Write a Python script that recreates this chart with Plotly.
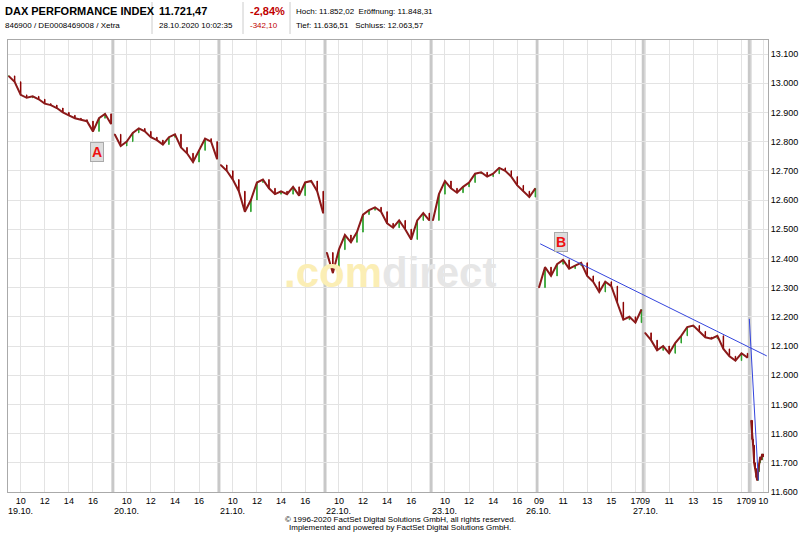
import plotly.graph_objects as go

# half-hourly closes 09:00 .. 17:30 per trading day
days = ["19.10.", "20.10.", "21.10.", "22.10.", "23.10.", "26.10.", "27.10."]
closes = [
    [13025, 13005, 12960, 12950, 12955, 12945, 12930, 12925, 12915, 12900, 12890, 12880, 12875, 12870, 12835, 12880, 12895, 12860],
    [12825, 12785, 12800, 12830, 12845, 12835, 12815, 12805, 12790, 12815, 12825, 12780, 12760, 12730, 12770, 12810, 12800, 12740],
    [12720, 12700, 12670, 12630, 12560, 12600, 12660, 12670, 12640, 12620, 12630, 12620, 12645, 12615, 12660, 12665, 12630, 12555],
    [12420, 12350, 12430, 12480, 12455, 12490, 12550, 12565, 12575, 12560, 12520, 12505, 12530, 12500, 12465, 12530, 12555, 12530],
    [12530, 12620, 12665, 12640, 12625, 12645, 12660, 12690, 12695, 12680, 12690, 12710, 12700, 12680, 12650, 12630, 12610, 12640],
    [12300, 12370, 12340, 12380, 12395, 12365, 12375, 12385, 12340, 12320, 12285, 12320, 12305, 12250, 12190, 12200, 12180, 12225],
    [12145, 12120, 12085, 12100, 12075, 12110, 12135, 12165, 12170, 12150, 12130, 12125, 12135, 12090, 12065, 12050, 12075, 12060],
]
# 28.10. in 5-minute steps from 09:00
last_day = [11845, 11780, 11760, 11700, 11680, 11650, 11640, 11670, 11700, 11720, 11710, 11730, 11721]

day_len = 8.8
ticks_a = [10, 12, 14, 16]
ticks_b = [9, 11, 13, 15, 17]

y_ticks = [11600, 11700, 11800, 11900, 12000, 12100, 12200, 12300, 12400, 12500,
           12600, 12700, 12800, 12900, 13000, 13100]

trend_b_x = [44.1, 62.9]
trend_b_y = [12450, 12066]
trend_c_x = [61.45, 62.2]
trend_c_y = [12193, 11640]

marks = [("A", 7.35, 12764), ("B", 45.8, 12456)]

W, H = 800, 533
L, R, T, B = 8, 32, 40, 41
PW, PH = W - L - R, H - T - B

fig = go.Figure()

xs, o, c = [], [], []
prev = None
for i, day in enumerate(closes):
    for j, v in enumerate(day):
        xs.append(i * day_len + j * 0.5)
        o.append(prev if (prev is not None and j > 0) else v)
        c.append(v)
        prev = v
for j, v in enumerate(last_day):
    xs.append(7 * day_len + j * 5 / 60)
    o.append(prev if j > 0 else v)
    c.append(v)
    prev = v
hi = [max(a, b) for a, b in zip(o, c)]
lo = [min(a, b) for a, b in zip(o, c)]

# connecting line per day
for i, day in enumerate(closes + [last_day]):
    step = 0.5 if i < 7 else 5 / 60
    fig.add_trace(go.Scatter(x=[i * day_len + j * step for j in range(len(day))], y=day,
                             mode="lines", line=dict(color="#8b1a1a", width=2),
                             hoverinfo="skip", showlegend=False))

fig.add_trace(go.Candlestick(x=xs, open=o, high=hi, low=lo, close=c,
                             increasing=dict(line=dict(color="#2ca02c", width=1), fillcolor="#3cb043"),
                             decreasing=dict(line=dict(color="#8b0000", width=1), fillcolor="#a00000"),
                             whiskerwidth=0, showlegend=False))

fig.add_trace(go.Scatter(x=trend_b_x, y=trend_b_y, mode="lines",
                         line=dict(color="#3344dd", width=1), showlegend=False))
fig.add_trace(go.Scatter(x=trend_c_x, y=trend_c_y, mode="lines",
                         line=dict(color="#3344dd", width=1), showlegend=False))

def px_x(px):
    return (px - L) / PW

def px_y(py):
    return (H - B - py) / PH

ann = []
tickvals, ticktext = [], []
for i, d in enumerate(days):
    hours = ticks_a if i < 5 else ticks_b
    for k, h in enumerate(hours):
        tickvals.append(i * day_len + h - 9)
        ticktext.append(f"{h:02d}")
    ann.append(dict(x=i * day_len + hours[0] - 9, xref="x", yref="paper", y=px_y(511), yanchor="middle",
                    text=d, showarrow=False, font=dict(size=9, family="Arial")))
tickvals += [7 * day_len, 7 * day_len + 1]
ticktext += ["09", "10"]

shapes = []
for i in range(1, 8):
    shapes.append(dict(type="line", xref="x", yref="paper", x0=i * day_len - 0.15, x1=i * day_len - 0.15,
                       y0=0, y1=1, line=dict(color="#c8c8c8", width=3), layer="below"))
for px in [152, 243, 290]:
    shapes.append(dict(type="line", xref="paper", yref="paper", x0=px_x(px), x1=px_x(px),
                       y0=px_y(34), y1=px_y(2), line=dict(color="#cccccc", width=1)))

for t, x, y in marks:
    ann.append(dict(x=x, y=y, text=f"<b>{t}</b>", showarrow=False, font=dict(color="#ee1111", size=14, family="Arial"),
                    bgcolor="#dddddd", bordercolor="#aaaaaa", borderwidth=1, borderpad=1))

def hdr(px, py, text, size=11, color="#000000", bold=False):
    ann.append(dict(xref="paper", yref="paper", x=px_x(px), y=px_y(py),
                    xanchor="left", yanchor="middle", showarrow=False,
                    text=f"<b>{text}</b>" if bold else text,
                    font=dict(size=size, color=color, family="Arial")))

hdr(3, 11, "DAX PERFORMANCE INDEX", 11, bold=True)
hdr(3, 25, "846900 / DE0008469008 / Xetra", 8)
hdr(157, 11, "11.721,47", 11, bold=True)
hdr(157, 25, "28.10.2020 10:02:35", 8)
hdr(248, 11, "-2,84%", 11, "#c00000", True)
hdr(248, 25, "-342,10", 8, "#c00000")
hdr(294, 11, "Hoch: 11.852,02  Eröffnung: 11.848,31", 8)
hdr(294, 25, "Tief: 11.636,51   Schluss: 12.063,57", 8)

ann.append(dict(xref="paper", yref="paper", x=px_x(390), y=px_y(272), yanchor="middle", showarrow=False,
                text="<b><span style='color:#fbeeb5'>.com</span><span style='color:#e6e6e6'>direct</span></b>",
                font=dict(size=42, family="Arial")))
ann.append(dict(xref="paper", yref="paper", x=px_x(400), y=px_y(519), yanchor="middle", showarrow=False,
                text="© 1996-2020 FactSet Digital Solutions GmbH, all rights reserved.",
                font=dict(size=8, family="Arial")))
ann.append(dict(xref="paper", yref="paper", x=px_x(400), y=px_y(527), yanchor="middle", showarrow=False,
                text="Implemented and powered by FactSet Digital Solutions GmbH.",
                font=dict(size=8, family="Arial")))

fig.update_layout(
    width=W, height=H, margin=dict(l=L, r=R, t=T, b=B, autoexpand=False),
    paper_bgcolor="white", plot_bgcolor="white",
    font=dict(family="Arial", size=11, color="#000000"),
    shapes=shapes, annotations=ann, showlegend=False,
    xaxis=dict(range=[-0.05, 63.0], tickvals=tickvals, ticktext=ticktext, showgrid=True,
               gridcolor="#e3e3e3", rangeslider=dict(visible=False), zeroline=False,
               showline=True, linecolor="#aaaaaa", mirror=True, ticks="", tickangle=0,
               tickfont=dict(size=9), automargin=False),
    yaxis=dict(range=[11600, 13100 + 14 / 0.292], side="right", tickvals=y_ticks,
               ticktext=[f"{v:,}".replace(",", ".") for v in y_ticks],
               showgrid=True, gridcolor="#e3e3e3", zeroline=False, showline=True,
               linecolor="#aaaaaa", mirror=True, tickfont=dict(size=9), automargin=False),
)

fig.write_html("out.html", config={"displayModeBar": False},
               post_script="document.body.style.margin='0';")
